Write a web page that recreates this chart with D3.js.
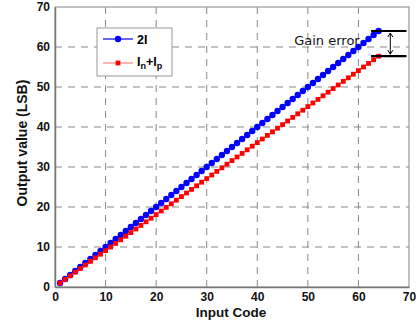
<!DOCTYPE html>
<html>
<head>
<meta charset="utf-8">
<script src="https://cdn.jsdelivr.net/npm/d3@7"></script>
<style>
  body { margin: 0; background: #fff; }
  svg text { font-family: "Liberation Sans", Arial, sans-serif; }
</style>
</head>
<body>
<div id="chart"></div>
<script>
// Input codes and both output series (LSB)
const inputCodes = [
  1, 2, 3, 4, 5, 6, 7, 8, 9, 10, 11, 12, 13, 14, 15, 16,
  17, 18, 19, 20, 21, 22, 23, 24, 25, 26, 27, 28, 29, 30, 31, 32,
  33, 34, 35, 36, 37, 38, 39, 40, 41, 42, 43, 44, 45, 46, 47, 48,
  49, 50, 51, 52, 53, 54, 55, 56, 57, 58, 59, 60, 61, 62, 63, 64,
];
const twoI = [
  1, 2, 3, 4, 5, 6, 7, 8, 9, 10, 11, 12, 13, 14, 15, 16,
  17, 18, 19, 20, 21, 22, 23, 24, 25, 26, 27, 28, 29, 30, 31, 32,
  33, 34, 35, 36, 37, 38, 39, 40, 41, 42, 43, 44, 45, 46, 47, 48,
  49, 50, 51, 52, 53, 54, 55, 56, 57, 58, 59, 60, 61, 62, 63, 64,
];
const inPlusIp = [
  1, 1.9, 2.8, 3.7, 4.6, 5.5, 6.4, 7.3, 8.2, 9.1, 10, 10.9, 11.8, 12.7, 13.6, 14.5,
  15.4, 16.3, 17.2, 18.1, 19, 19.9, 20.8, 21.7, 22.6, 23.5, 24.4, 25.3, 26.2, 27.1, 28, 28.9,
  29.8, 30.7, 31.6, 32.5, 33.4, 34.3, 35.2, 36.1, 37, 37.9, 38.8, 39.7, 40.6, 41.5, 42.4, 43.3,
  44.2, 45.1, 46, 46.9, 47.8, 48.7, 49.6, 50.5, 51.4, 52.3, 53.2, 54.1, 55, 55.9, 56.8, 57.7,
];
const xTicks = [0, 10, 20, 30, 40, 50, 60, 70];
const yTicks = [0, 10, 20, 30, 40, 50, 60, 70];

const width = 420;
const height = 328;
const margin = { left: 55, right: 11, top: 7, bottom: 41 };

const svg = d3.select('#chart')
  .append('svg')
  .attr('width', width)
  .attr('height', height);

const x = d3.scaleLinear().domain([0, 70]).range([margin.left, width - margin.right]);
const y = d3.scaleLinear().domain([0, 70]).range([height - margin.bottom, margin.top]);

// Dashed grid
svg.append('g')
  .selectAll('line')
  .data(xTicks.slice(1, -1))
  .enter()
  .append('line')
  .attr('x1', (d) => x(d)).attr('x2', (d) => x(d))
  .attr('y1', y(0)).attr('y2', y(70))
  .attr('stroke', '#888')
  .attr('stroke-dasharray', '7,6');

svg.append('g')
  .selectAll('line')
  .data(yTicks.slice(1, -1))
  .enter()
  .append('line')
  .attr('x1', x(0)).attr('x2', x(70))
  .attr('y1', (d) => y(d)).attr('y2', (d) => y(d))
  .attr('stroke', '#888')
  .attr('stroke-dasharray', '7,6');

// Frame
svg.append('rect')
  .attr('x', x(0)).attr('y', y(70))
  .attr('width', x(70) - x(0)).attr('height', y(0) - y(70))
  .attr('fill', 'none')
  .attr('stroke', '#999')
  .attr('stroke-width', 1.2);

// Axes
const xAxis = svg.append('g')
  .attr('transform', `translate(0, ${y(0)})`)
  .call(d3.axisBottom(x).tickValues(xTicks).tickSize(0).tickPadding(5));
const yAxis = svg.append('g')
  .attr('transform', `translate(${x(0)}, 0)`)
  .call(d3.axisLeft(y).tickValues(yTicks).tickSize(0).tickPadding(5));

[xAxis, yAxis].forEach((g) => {
  g.select('.domain').attr('stroke', '#777').attr('stroke-width', 1.5);
  g.selectAll('text')
    .style('font-family', '"Liberation Sans", Arial, sans-serif')
    .style('font-size', '12px')
    .style('font-weight', 'bold')
    .attr('fill', '#111');
});

// Series
const blueData = inputCodes.map((c, i) => [c, twoI[i]]);
const redData = inputCodes.map((c, i) => [c, inPlusIp[i]]);
const line = d3.line().x((d) => x(d[0])).y((d) => y(d[1]));

svg.append('path')
  .datum(blueData)
  .attr('d', line)
  .attr('fill', 'none')
  .attr('stroke', '#0000ff')
  .attr('stroke-width', 1.2);

svg.append('g')
  .selectAll('circle')
  .data(blueData)
  .enter()
  .append('circle')
  .attr('cx', (d) => x(d[0]))
  .attr('cy', (d) => y(d[1]))
  .attr('r', 3.2)
  .attr('fill', '#0000ff');

svg.append('path')
  .datum(redData)
  .attr('d', line)
  .attr('fill', 'none')
  .attr('stroke', '#ff8080')
  .attr('stroke-width', 1.2);

svg.append('g')
  .selectAll('rect')
  .data(redData)
  .enter()
  .append('rect')
  .attr('x', (d) => x(d[0]) - 2.4)
  .attr('y', (d) => y(d[1]) - 2.4)
  .attr('width', 4.8)
  .attr('height', 4.8)
  .attr('fill', '#ff0000');

// Gain error annotation
const gainTop = twoI[twoI.length - 1];
const gainBottom = inPlusIp[inPlusIp.length - 1];
const gain = svg.append('g').attr('stroke', '#000');
[gainTop, gainBottom].forEach((v) => {
  gain.append('line')
    .attr('x1', x(62.5)).attr('x2', x(69.5))
    .attr('y1', y(v)).attr('y2', y(v))
    .attr('stroke-width', 2.2);
});
const ax = x(66.3);
gain.append('line')
  .attr('x1', ax).attr('x2', ax)
  .attr('y1', y(gainTop) + 2).attr('y2', y(gainBottom) - 2)
  .attr('stroke-width', 1);
gain.append('path')
  .attr('d', `M${ax - 2.5},${y(gainTop) + 6}L${ax},${y(gainTop) + 2}L${ax + 2.5},${y(gainTop) + 6}`)
  .attr('fill', 'none');
gain.append('path')
  .attr('d', `M${ax - 2.5},${y(gainBottom) - 6}L${ax},${y(gainBottom) - 2}L${ax + 2.5},${y(gainBottom) - 6}`)
  .attr('fill', 'none');

svg.append('text')
  .attr('x', x(47.3))
  .attr('y', y(60.6))
  .style('font-size', '13px')
  .style('font-family', '"DejaVu Sans", sans-serif')
  .attr('fill', '#111')
  .text('Gain error');

// Legend
const legend = svg.append('g');
legend.append('rect')
  .attr('x', 97).attr('y', 28)
  .attr('width', 75).attr('height', 48)
  .attr('fill', '#fff')
  .attr('stroke', '#999');

legend.append('line')
  .attr('x1', 103).attr('x2', 133)
  .attr('y1', 39).attr('y2', 39)
  .attr('stroke', '#0000ff').attr('stroke-width', 1.2);
legend.append('circle')
  .attr('cx', 118).attr('cy', 39).attr('r', 3.2)
  .attr('fill', '#0000ff');
legend.append('text')
  .attr('x', 137).attr('y', 43.5)
  .style('font-size', '12.5px').style('font-weight', 'bold')
  .text('2I');

legend.append('line')
  .attr('x1', 103).attr('x2', 133)
  .attr('y1', 63).attr('y2', 63)
  .attr('stroke', '#ff8080').attr('stroke-width', 1.2);
legend.append('rect')
  .attr('x', 115.6).attr('y', 60.6).attr('width', 4.8).attr('height', 4.8)
  .attr('fill', '#ff0000');
const lt = legend.append('text')
  .attr('x', 137).attr('y', 66)
  .style('font-size', '12.5px').style('font-weight', 'bold');
lt.append('tspan').text('I');
lt.append('tspan').attr('dy', 3).style('font-size', '9px').text('n');
lt.append('tspan').attr('dy', -3).text('+I');
lt.append('tspan').attr('dy', 3).style('font-size', '9px').text('p');

// Axis labels
svg.append('text')
  .attr('x', 231)
  .attr('y', 317)
  .attr('text-anchor', 'middle')
  .style('font-size', '13.5px').style('font-weight', 'bold')
  .attr('fill', '#111')
  .text('Input Code');

svg.append('text')
  .attr('transform', `translate(27, ${y(36)}) rotate(-90)`)
  .attr('text-anchor', 'middle')
  .style('font-size', '14px').style('font-weight', 'bold')
  .attr('fill', '#111')
  .text('Output value (LSB)');
</script>
</body>
</html>
